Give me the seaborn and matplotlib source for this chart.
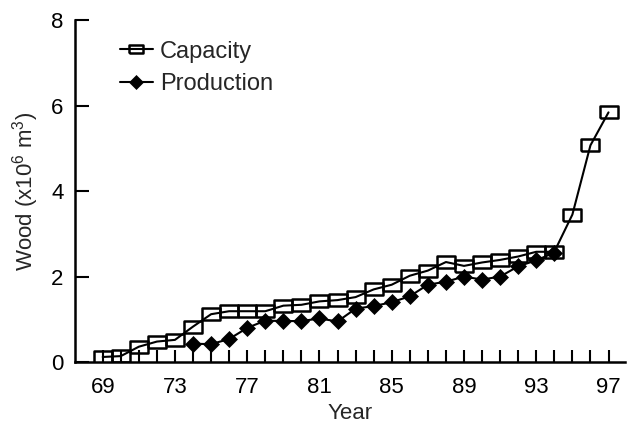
import matplotlib
matplotlib.use("Agg")
import matplotlib.pyplot as plt
import seaborn as sns
import pandas as pd
import numpy as np

# ---- data ----
cap_years = list(range(69, 98))
capacity = [0.12, 0.14, 0.36, 0.48, 0.52, 0.83, 1.12, 1.19, 1.19, 1.19,
            1.32, 1.34, 1.42, 1.45, 1.52, 1.70, 1.81, 2.02, 2.14, 2.34,
            2.25, 2.33, 2.39, 2.47, 2.58, 2.58, 3.45, 5.07, 5.84]
prod_years = list(range(74, 95))
production = [0.43, 0.42, 0.54, 0.80, 0.97, 0.96, 0.96, 1.02, 0.95, 1.25,
              1.31, 1.40, 1.54, 1.81, 1.88, 2.00, 1.93, 2.00, 2.24, 2.38, 2.56]
xticks_major = [69, 73, 77, 81, 85, 89, 93, 97]
yticks = [0, 2, 4, 6, 8]

sns.set_style("ticks")
plt.rcParams['font.family'] = ['Liberation Sans', 'DejaVu Sans']
plt.rcParams['mathtext.fontset'] = 'custom'
plt.rcParams['mathtext.rm'] = 'Liberation Sans'
plt.rcParams['mathtext.it'] = 'Liberation Sans:italic'

fig = plt.figure(figsize=(6.33, 4.26), dpi=100)
ax = fig.add_axes([0.118, 0.150, 0.869, 0.803])

df_cap = pd.DataFrame({"Year": cap_years, "Wood": capacity})
df_prod = pd.DataFrame({"Year": prod_years, "Wood": production})

rect = [(-1, -0.68), (1, -0.68), (1, 0.68), (-1, 0.68), (-1, -0.68)]

sns.lineplot(data=df_cap, x="Year", y="Wood", ax=ax, color="black",
             linewidth=1.5, marker=rect, markersize=13,
             markerfacecolor="none", markeredgecolor="black",
             markeredgewidth=1.8, label="Capacity")
sns.lineplot(data=df_prod, x="Year", y="Wood", ax=ax, color="black",
             linewidth=1.5, marker="D", markersize=8,
             markerfacecolor="black", markeredgecolor="black",
             markeredgewidth=0.5, label="Production")

ax.set_xlim(67.45, 97.9)
ax.set_ylim(0, 8)
ax.set_xticks(xticks_major)
ax.set_xticks(range(69, 98), minor=True)
ax.set_yticks(yticks)
ax.tick_params(axis='both', which='both', direction='in', width=1.5,
               labelsize=16, color='black', labelcolor='black')
ax.tick_params(axis='x', which='both', length=8.5, pad=11)
ax.tick_params(axis='y', which='major', length=10, pad=8)
for s in ['top', 'right']:
    ax.spines[s].set_visible(False)
for s in ['left', 'bottom']:
    ax.spines[s].set_linewidth(1.8)
    ax.spines[s].set_color('black')

ax.set_xlabel("Year", fontsize=16, labelpad=3)
ax.set_ylabel("Wood (x10$^6$ m$^3$)", fontsize=16, labelpad=7)

leg = ax.legend(loc='upper left', bbox_to_anchor=(0.082, 0.94), frameon=False,
                fontsize=17, handlelength=1.4, handletextpad=0.3,
                borderpad=0, borderaxespad=0, labelspacing=0.45)
hs = leg.legend_handles
hs[0].set_markersize(9.5)
hs[1].set_markersize(7.5)

fig.savefig("out.png", dpi=100)
